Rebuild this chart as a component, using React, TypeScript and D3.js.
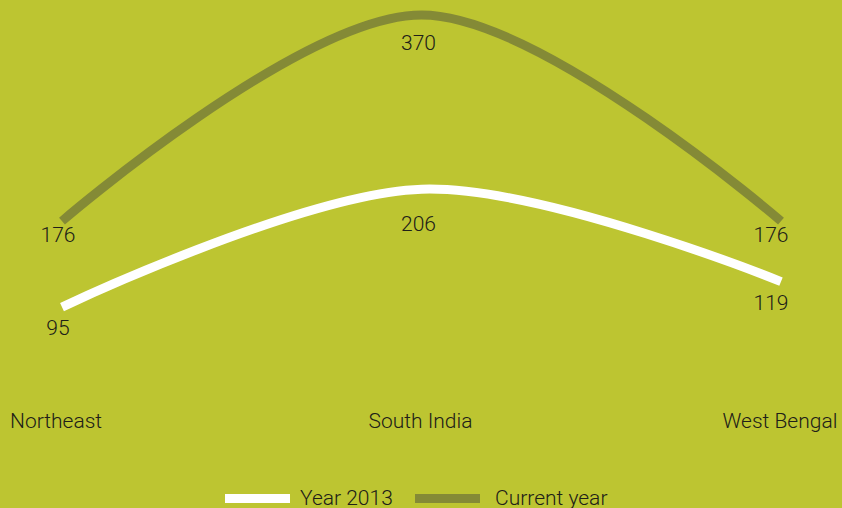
import React, { useEffect, useRef } from "react";
import * as d3 from "d3";

const categories = ["Northeast", "South India", "West Bengal"];
const year2013 = [95, 206, 119];
const currentYear = [176, 370, 176];
const seriesNames = ["Year 2013", "Current year"];

const App = () => {
  const svgRef = useRef<SVGSVGElement>(null);

  useEffect(() => {
    const width = 842;
    const height = 508;
    const bg = "#bdc531";
    const olive = "#848a36";
    const textColor = "#202018";
    const font = "Roboto, sans-serif";
    const fontSize = 21;

    const svg = d3.select(svgRef.current);
    svg.selectAll("*").remove();
    svg.attr("width", width).attr("height", height);

    svg.append("rect").attr("width", width).attr("height", height).attr("fill", bg);

    const x = d3.scalePoint<string>().domain(categories).range([62, 781]);
    const y = d3.scaleLinear().domain([0, 370]).range([408, 15]);

    const line = d3
      .line<number>()
      .x((d, i) => x(categories[i]) as number)
      .y((d) => y(d))
      .curve(d3.curveCardinal);

    const series = [
      { name: seriesNames[1], values: currentYear, color: olive, dys: [21, 35, 21] },
      { name: seriesNames[0], values: year2013, color: "#ffffff", dys: [28, 42, 28] },
    ];

    series.forEach((s) => {
      svg
        .append("path")
        .datum(s.values)
        .attr("d", line)
        .attr("fill", "none")
        .attr("stroke", s.color)
        .attr("stroke-width", 9);
    });

    // value labels under each point
    const dxs = [-4, -3, -10];
    series.forEach((s) => {
      svg
        .append("g")
        .selectAll("text")
        .data(s.values)
        .join("text")
        .attr("x", (d, i) => (x(categories[i]) as number) + dxs[i])
        .attr("y", (d, i) => y(d) + s.dys[i])
        .attr("text-anchor", "middle")
        .attr("font-family", font)
        .attr("font-weight", 300)
        .attr("font-size", fontSize)
        .attr("fill", textColor)
        .text((d) => d);
    });

    // category labels
    svg
      .append("g")
      .selectAll("text")
      .data(categories)
      .join("text")
      .attr("x", (d, i) => (i === 0 ? 10 : (x(d) as number) - 1))
      .attr("y", 428)
      .attr("text-anchor", (d, i) => (i === 0 ? "start" : "middle"))
      .attr("font-family", font)
      .attr("font-weight", 300)
      .attr("font-size", fontSize)
      .attr("fill", textColor)
      .text((d) => d);

    // legend
    const legend = [
      { name: seriesNames[0], color: "#ffffff", x: 225, tx: 75 },
      { name: seriesNames[1], color: olive, x: 415, tx: 80 },
    ];
    legend.forEach((l) => {
      svg
        .append("rect")
        .attr("x", l.x)
        .attr("y", 494)
        .attr("width", 65)
        .attr("height", 9)
        .attr("fill", l.color);
      svg
        .append("text")
        .attr("x", l.x + l.tx)
        .attr("y", 505)
        .attr("font-family", font)
        .attr("font-weight", 300)
        .attr("font-size", fontSize)
        .attr("fill", textColor)
        .text(l.name);
    });
  }, []);

  return (
    <svg
      ref={svgRef}
      style={{ position: "absolute", left: 0, top: 0, display: "block" }}
    ></svg>
  );
};

export default App;
